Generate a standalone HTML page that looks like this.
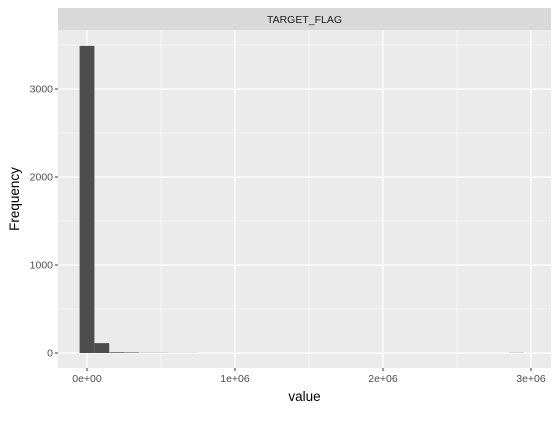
<!DOCTYPE html>
<html><head><meta charset="utf-8"><style>
body{margin:0;background:#fff;width:558px;height:431px;overflow:hidden;font-family:"Liberation Sans",sans-serif;}
</style></head><body>
<svg id="chart" width="558" height="431"></svg>
<script>
const binCenters=[0,100000,200000,300000,400000,500000,600000,700000,800000,900000,1000000,1100000,1200000,1300000,1400000,1500000,1600000,1700000,1800000,1900000,2000000,2100000,2200000,2300000,2400000,2500000,2600000,2700000,2800000,2900000];
const counts=[3490,112,8,6,2,2,1,1,0,0,0,0,0,0,0,0,0,0,0,0,0,0,0,0,0,0,0,0,0,2];
const binWidth=100000;
const xTicks=[0,1000000,2000000,3000000];
const xTickLabels=["0e+00","1e+06","2e+06","3e+06"];
const yTicks=[0,1000,2000,3000];
const yTickLabels=["0","1000","2000","3000"];
const NS="http://www.w3.org/2000/svg";
const svg=document.getElementById('chart');
const L=58,R=551,T=30,B=368;
const xs=v=>87+v*(148/1e6);
const ys=v=>353-v*0.088;
function el(tag,attrs,parent){const e=document.createElementNS(NS,tag);for(const k in attrs)e.setAttribute(k,attrs[k]);(parent||svg).appendChild(e);return e;}
let s=el('rect',{x:L,y:8,width:R-L,height:T-8,fill:'#d9d9d9'});


let st=el('text',{x:(L+R)/2,y:23,'text-anchor':'middle','font-size':'10.5',fill:'#1a1a1a'});st.textContent='TARGET_FLAG';


let p=el('rect',{x:L,y:T,width:R-L,height:B-T,fill:'#ebebeb'});


// minor grids
for(let i=0;i<xTicks.length;i++){const v=xTicks[i]+500000;const x=xs(v);if(x<R)el('line',{x1:x,x2:x,y1:T,y2:B,stroke:'#fff','stroke-width':0.6});}
for(let i=0;i<yTicks.length;i++){const y=ys(yTicks[i]+500);if(y>T)el('line',{x1:L,x2:R,y1:y,y2:y,stroke:'#fff','stroke-width':0.6});}
xTicks.forEach((v,i)=>{const x=xs(v);
 const g=el('line',{x1:x,x2:x,y1:T,y2:B,stroke:'#fff','stroke-width':1.2});
 
 el('line',{x1:x,x2:x,y1:B,y2:B+3,stroke:'#333','stroke-width':1});
 const t=el('text',{x:x,y:B+14,'text-anchor':'middle','font-size':'10.5',fill:'#4d4d4d'});t.textContent=xTickLabels[i];
 });
yTicks.forEach((v,i)=>{const y=ys(v);
 const g=el('line',{x1:L,x2:R,y1:y,y2:y,stroke:'#fff','stroke-width':1.2});
 
 el('line',{x1:L-3,x2:L,y1:y,y2:y,stroke:'#333','stroke-width':1});
 const t=el('text',{x:L-5,y:y+3.5,'text-anchor':'end','font-size':'10.5',fill:'#4d4d4d'});t.textContent=yTickLabels[i];
 });
binCenters.forEach((c,i)=>{if(counts[i]<=0)return;
 const x0=xs(c-binWidth/2),x1=xs(c+binWidth/2),y=ys(counts[i]);
 const b=el('rect',{x:x0,y:y,width:x1-x0,height:ys(0)-y,fill:'#4d4d4d'});
 
 });
let xt=el('text',{x:(L+R)/2,y:401,'text-anchor':'middle','font-size':'13.5',fill:'#000'});xt.textContent='value';


let yt=el('text',{x:0,y:0,'text-anchor':'middle','font-size':'13.5',fill:'#000',transform:'translate(19,'+((T+B)/2)+') rotate(-90)'});yt.textContent='Frequency';


</script>
</body></html>
